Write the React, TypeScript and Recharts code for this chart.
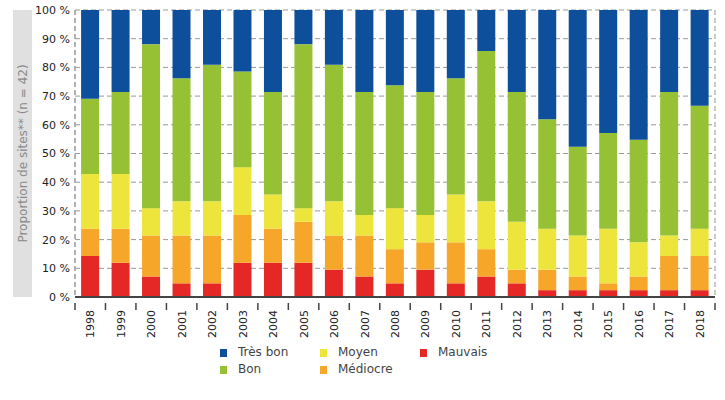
import React from "react";
import { BarChart, Bar, XAxis, YAxis, CartesianGrid } from "recharts";

const years = ["1998","1999","2000","2001","2002","2003","2004","2005","2006","2007","2008","2009","2010","2011","2012","2013","2014","2015","2016","2017","2018"];
// number of sites (out of 42) per class
const mauvais = [6,5,3,2,2,5,5,5,4,3,2,4,2,3,2,1,1,1,1,1,1];
const mediocre = [4,5,6,7,7,7,5,6,5,6,5,4,6,4,2,3,2,1,2,5,5];
const moyen = [8,8,4,5,5,7,5,2,5,3,6,4,7,7,7,6,6,8,5,3,4];
const bon = [11,12,24,18,20,14,15,24,20,18,18,18,17,22,19,16,13,14,15,21,18];
const tresBon = [13,12,5,10,8,9,12,5,8,12,11,12,10,6,12,16,20,18,19,12,14];
const yTicks = [0,0.1,0.2,0.3,0.4,0.5,0.6,0.7,0.8,0.9,1];

const series = [
  { key: "mauvais", name: "Mauvais", color: "#e52825" },
  { key: "mediocre", name: "Médiocre", color: "#f6a72a" },
  { key: "moyen", name: "Moyen", color: "#ede43c" },
  { key: "bon", name: "Bon", color: "#96c134" },
  { key: "tresBon", name: "Très bon", color: "#0e4f9c" },
];

const data = years.map((y, i) => ({
  year: y,
  mauvais: mauvais[i],
  mediocre: mediocre[i],
  moyen: moyen[i],
  bon: bon[i],
  tresBon: tresBon[i],
}));

const FONT = "DejaVu Sans";
const W = 725;
const H = 400;
const LEFT = 75;
const RIGHT = 10;
const PLOT_W = W - LEFT - RIGHT;
const BAND = PLOT_W / years.length;

const XTick = (props: any) => {
  const { x, y, payload, index } = props;
  const half = BAND / 2;
  return (
    <g>
      <line x1={x + half} x2={x + half} y1={y - 2} y2={y + 5} stroke="#444" strokeWidth={1.5} />
      {index === 0 && (
        <line x1={x - half} x2={x - half} y1={y - 2} y2={y + 5} stroke="#444" strokeWidth={1.5} />
      )}
      <text
        x={0}
        y={0}
        transform={`translate(${x + 4}, ${y + 5}) rotate(-90)`}
        textAnchor="end"
        fontSize={11}
        fontFamily={FONT}
        fill="#222"
      >
        {payload.value}
      </text>
    </g>
  );
};

const YLabel = (props: any) => {
  const vb = props.viewBox || {};
  const top = vb.y ?? 10;
  const h = vb.height ?? 287;
  return (
    <g>
      <rect x={13} y={top} width={19} height={h} fill="#e0e0e0" />
      <text
        x={0}
        y={0}
        transform={`translate(${22.5}, ${top + h / 2}) rotate(-90)`}
        textAnchor="middle"
        dominantBaseline="central"
        fontSize={12}
        fontFamily={FONT}
        fill="#8a8a8a"
      >
        Proportion de sites** (n = 42)
      </text>
    </g>
  );
};

const legendItems = [
  { name: "Très bon", color: "#0e4f9c", left: 220, top: 346 },
  { name: "Moyen", color: "#ede43c", left: 320, top: 346 },
  { name: "Mauvais", color: "#e52825", left: 420, top: 346 },
  { name: "Bon", color: "#96c134", left: 220, top: 363 },
  { name: "Médiocre", color: "#f6a72a", left: 320, top: 363 },
];

export default function App() {
  return (
    <div style={{ position: "absolute", left: 0, top: 0, width: W, height: H, background: "#fff" }}>
      <BarChart
        width={W}
        height={H}
        data={data}
        stackOffset="expand"
        barCategoryGap="20%"
        margin={{ top: 10, right: RIGHT, left: 0, bottom: 0 }}
      >
        <CartesianGrid
          stroke="#999"
          strokeDasharray="5 3"
          verticalPoints={[LEFT, W - RIGHT]}
        />
        <YAxis
          width={LEFT}
          domain={[0, 1]}
          ticks={yTicks}
          tickFormatter={(v: number) => `${Math.round(v * 100)} %`}
          tick={{ fontSize: 11, fontFamily: FONT, fill: "#222" }}
          tickLine={false}
          tickSize={0}
          tickMargin={5}
          axisLine={{ stroke: "#999", strokeDasharray: "5 3" }}
          label={{ content: YLabel }}
        />
        <XAxis
          dataKey="year"
          height={103}
          interval={0}
          tick={<XTick />}
          tickLine={false}
          axisLine={{ stroke: "#444", strokeWidth: 2 }}
        />
        {series.map((s) => (
          <Bar
            key={s.key}
            dataKey={s.key}
            name={s.name}
            stackId="a"
            fill={s.color}
            isAnimationActive={false}
          />
        ))}
      </BarChart>
      {legendItems.map((it) => (
        <div
          key={it.name}
          style={{
            position: "absolute",
            left: it.left,
            top: it.top,
            display: "flex",
            alignItems: "center",
            fontFamily: FONT,
            fontSize: 12,
            color: "#444",
            lineHeight: "13px",
            whiteSpace: "nowrap",
          }}
        >
          <span style={{ display: "inline-block", width: 7, height: 8, background: it.color, marginRight: 11 }} />
          <span>{it.name}</span>
        </div>
      ))}
    </div>
  );
}
